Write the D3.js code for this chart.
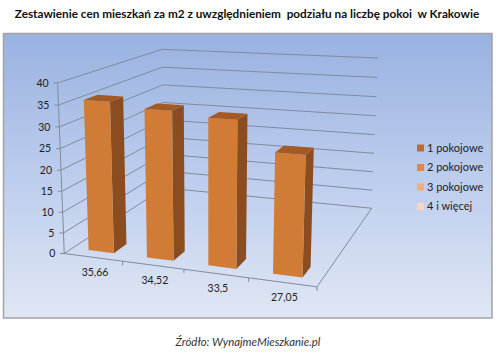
<!DOCTYPE html>
<html><head><meta charset="utf-8">
<script src="https://cdn.jsdelivr.net/npm/d3@7"></script>
<style>body{margin:0;background:#fff}</style>
</head><body><svg id="c" width="500" height="355"></svg>
<script>
const categories = ["35,66","34,52","33,5","27,05"];
const values = [35.66, 34.52, 33.5, 27.05];
const yTicks = [0,5,10,15,20,25,30,35,40];
const seriesNames = ["1 pokojowe","2 pokojowe","3 pokojowe","4 i więcej"];
const seriesColors = ["#b96d35","#e0883f","#f3ae80","#fad6be"];
const titleText = "Zestawienie cen mieszkań za m2 z uwzględnieniem  podziału na liczbę pokoi  w Krakowie";
const sourceText = "Źródło: WynajmeMieszkanie.pl";

// frame calibration (world box X,Y,Z in [0,1] -> screen) for the 3D perspective
const calib = [
 [0,0,0,65,253],[0,1,0,57,83],[0,0.5,0,61,170],[0,0.25,0,63,212],[0,0.75,0,59,126.5],
 [1,0,0,317,287.5],[0.25,0,0,123,261],[0.5,0,0,184,269.5],[0.75,0,0,248,278.4],
 [0,1,1,163,49],[0,0,1,163,189],[1,1,1,378,59],[1,0,1,372,207],[1,0.5,1,375,134]
];
const NU=200,NV=170,NS=100;
function fitDLT(pts){
  const A=[],b=[];
  pts.forEach(([X,Y,Z,u0,v0])=>{
    const u=(u0-NU)/NS, v=(v0-NV)/NS;
    A.push([X,Y,Z,1,0,0,0,0,-u*X,-u*Y,-u*Z]); b.push(u);
    A.push([0,0,0,0,X,Y,Z,1,-v*X,-v*Y,-v*Z]); b.push(v);
  });
  const n=11; const M=[...Array(n)].map(()=>new Array(n+1).fill(0));
  for(let r=0;r<A.length;r++) for(let i=0;i<n;i++){ for(let j=0;j<n;j++) M[i][j]+=A[r][i]*A[r][j]; M[i][n]+=A[r][i]*b[r]; }
  for(let i=0;i<n;i++){
    let p=i; for(let k=i+1;k<n;k++) if(Math.abs(M[k][i])>Math.abs(M[p][i])) p=k;
    [M[i],M[p]]=[M[p],M[i]];
    for(let k=0;k<n;k++) if(k!==i){ const f=M[k][i]/M[i][i]; for(let j=i;j<=n;j++) M[k][j]-=f*M[i][j]; }
  }
  return M.map((r,i)=>r[n]/r[i]);
}
const P = fitDLT(calib);
function proj(X,Y,Z){
  const w=P[8]*X+P[9]*Y+P[10]*Z+1;
  return [(P[0]*X+P[1]*Y+P[2]*Z+P[3])/w*NS+NU, (P[4]*X+P[5]*Y+P[6]*Z+P[7])/w*NS+NV];
}

const svg = d3.select("#c");
const defs = svg.append("defs");
const grad = defs.append("linearGradient").attr("id","bg").attr("x1",0).attr("y1",0).attr("x2",0).attr("y2",1);
grad.append("stop").attr("offset","0%").attr("stop-color","#99b2e1");
grad.append("stop").attr("offset","55%").attr("stop-color","#c0cfee");
grad.append("stop").attr("offset","100%").attr("stop-color","#e0e7f4");

svg.append("rect").attr("x",3.5).attr("y",33.5).attr("width",488.5).attr("height",284.5)
  .attr("fill","url(#bg)").attr("stroke","#a3a3a3").attr("stroke-width",1.5);

// title
const title = svg.append("text").attr("x",247).attr("y",18).attr("text-anchor","middle")
  .style("font-family","Lato").style("font-weight","bold").style("font-size","11px")
  .style("white-space","pre").attr("fill","#111").text(titleText);
{ const w=title.node().getComputedTextLength(); title.style("font-size",(11*465/w)+"px"); }

const x = d3.scaleBand().domain(categories).range([0,1]).paddingInner(0.56).paddingOuter(0.28);
const y = d3.scaleLinear().domain([0,40]).range([0,1]);
const zFront = 0.07, zBack = 0.185;
const line = d3.line();
const gridColor = "#808b9e";

// gridlines on left wall and back wall
const g = svg.append("g");
g.selectAll("path.grid").data(yTicks).join("path").attr("class","grid")
  .attr("d",t=>line([proj(0,y(t),0),proj(0,y(t),1),proj(1,y(t),1)]))
  .attr("fill","none").attr("stroke",gridColor).attr("stroke-width",1);
// floor right edge and front edge
g.append("path").attr("d",line([proj(0,0,0),proj(1,0,0),proj(1,0,1)]))
  .attr("fill","none").attr("stroke",gridColor).attr("stroke-width",1);
// value axis
g.append("path").attr("d",line([proj(0,0,0),proj(0,1,0)]))
  .attr("fill","none").attr("stroke",gridColor).attr("stroke-width",1);
// value ticks + labels
yTicks.forEach(t=>{
  const [px,py]=proj(0,y(t),0);
  g.append("line").attr("x1",px-4).attr("x2",px).attr("y1",py).attr("y2",py).attr("stroke",gridColor);
  g.append("text").attr("x",px-9).attr("y",py).attr("dy","0.35em").attr("text-anchor","end")
    .style("font-family","Lato").style("font-size","10.5px").attr("fill","#222").text(t);
});
// category ticks
d3.range(1,categories.length+1).forEach(k=>{
  const [px,py]=proj(k*x.step(),0,0);
  g.append("line").attr("x1",px).attr("x2",px).attr("y1",py).attr("y2",py+4).attr("stroke",gridColor);
});
categories.forEach(c=>{
  const [px,py]=proj(x(c)+x.bandwidth()/2,0,0);
  g.append("text").attr("x",px+2).attr("y",py+15).attr("dy","0.35em").attr("text-anchor","middle")
    .style("font-family","Lato").style("font-size","10.5px").attr("fill","#222").text(c);
});

// bars
const bars = svg.append("g");
categories.forEach((c,i)=>{
  const x0=x(c), x1=x(c)+x.bandwidth(), v=y(values[i]);
  const front=[proj(x0,0,zFront),proj(x1,0,zFront),proj(x1,v,zFront),proj(x0,v,zFront)];
  const side=[proj(x1,0,zFront),proj(x1,0,zBack),proj(x1,v,zBack),proj(x1,v,zFront)];
  const top=[proj(x0,v,zFront),proj(x1,v,zFront),proj(x1,v,zBack),proj(x0,v,zBack)];
  bars.append("path").attr("d",line(side)+"Z").attr("fill","#8b4d1f");
  bars.append("path").attr("d",line(front)+"Z").attr("fill","#d07c37");
  bars.append("path").attr("d",line(top)+"Z").attr("fill","#a45a25");
});

// legend
const leg = svg.append("g");
seriesNames.forEach((s,i)=>{
  const yy = 148 + i*19.5;
  leg.append("rect").attr("x",417).attr("y",yy-3.5).attr("width",7).attr("height",7).attr("fill",seriesColors[i]);
  leg.append("text").attr("x",427).attr("y",yy).attr("dy","0.35em")
    .style("font-family","Lato").style("font-size","11px").attr("fill","#222").text(s);
});

// source
const src = svg.append("text").attr("x",248).attr("y",346).attr("text-anchor","middle")
  .style("font-family","Lato").style("font-style","italic").style("font-size","11px")
  .attr("fill","#333").text(sourceText);
{ const w=src.node().getComputedTextLength(); src.style("font-size",(11*145/w)+"px"); }
</script>
</body></html>
